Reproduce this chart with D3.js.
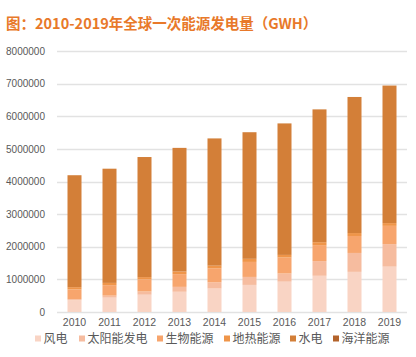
<!DOCTYPE html>
<html><head><meta charset="utf-8">
<script src="https://cdn.jsdelivr.net/npm/d3@7"></script>
<style>body{margin:0;background:#fff;}svg{display:block;}</style>
</head><body>
<svg id="c" width="416" height="357"></svg>
<script>
const years = ["2010","2011","2012","2013","2014","2015","2016","2017","2018","2019"];
const seriesNames = ["风电","太阳能发电","生物能源","地热能源","水电","海洋能源"];
const wind = [360000,440000,530000,620000,720000,830000,930000,1110000,1230000,1390000];
const solar = [32000,62000,100000,150000,190000,245000,250000,450000,580000,690000];
const biomass = [300000,320000,370000,390000,430000,460000,490000,490000,520000,560000];
const geothermal = [70000,70000,70000,80000,80000,95000,80000,90000,90000,85000];
const hydro = [3430000,3500000,3680000,3790000,3900000,3880000,4030000,4070000,4170000,4215000];
const marine = [500,500,500,600,1000,1000,1000,1000,1000,1000];
const yTicks = [0,1000000,2000000,3000000,4000000,5000000,6000000,7000000,8000000];
const colors = ["#F9D4C4","#F6BC9F","#F7A56D","#EF9549","#D37F38","#B3632B"];

const svg = d3.select("#c");
const m = {left:57, right:9, top:51, bottom:45};
const W = 416, H = 357;
const x = d3.scaleBand().domain(years).range([m.left, W - m.right]).paddingInner(0.6).paddingOuter(0.3);
const y = d3.scaleLinear().domain([0, 8000000]).range([312, 51]);

svg.append("text").attr("x",6).attr("y",29)
  .attr("font-family","'Noto Sans CJK SC', sans-serif").attr("font-weight","bold")
  .attr("font-size",14.5).attr("fill","#E8792A")
  .text("图：2010-2019年全球一次能源发电量（GWH）");

// gridlines
svg.append("g").selectAll("line").data(yTicks).join("line")
  .attr("x1", m.left).attr("x2", W - m.right)
  .attr("y1", d => Math.round(y(d)) + 0.5).attr("y2", d => Math.round(y(d)) + 0.5)
  .attr("stroke", "#E2E2E2").attr("stroke-width", 1.3);

const yAxis = svg.append("g").attr("transform",`translate(${m.left - 12},0)`)
  .call(d3.axisLeft(y).tickValues(yTicks).tickSize(0).tickPadding(0).tickFormat(d3.format("d")));
yAxis.select(".domain").remove();
yAxis.selectAll("text").attr("font-family","'Liberation Sans', Arial, sans-serif").attr("font-size",10).attr("fill","#595959");

const data = years.map((yr,i) => ({year: yr, "风电": wind[i], "太阳能发电": solar[i], "生物能源": biomass[i], "地热能源": geothermal[i], "水电": hydro[i], "海洋能源": marine[i]}));
const stacked = d3.stack().keys(seriesNames)(data);

svg.append("g").selectAll("g").data(stacked).join("g")
  .attr("fill", (d,i) => colors[i])
  .selectAll("rect").data(d => d).join("rect")
  .attr("x", d => x(d.data.year))
  .attr("width", x.bandwidth())
  .attr("y", d => y(d[1]))
  .attr("height", d => Math.max(0, y(d[0]) - y(d[1])));

const xAxis = svg.append("g").attr("transform","translate(0,319)")
  .call(d3.axisBottom(x).tickSize(0).tickPadding(0));
xAxis.select(".domain").remove();
xAxis.selectAll("text").attr("dy","0.71em").attr("font-family","'Liberation Sans', Arial, sans-serif").attr("font-size",10.5).attr("fill","#595959");

// legend
const legendX = [35, 79, 157, 224, 290, 333];
const lg = svg.append("g").selectAll("g").data(seriesNames).join("g")
  .attr("transform", (d,i) => `translate(${legendX[i]},339)`);
lg.append("rect").attr("x",0).attr("y",-3.5).attr("width",6).attr("height",6).attr("fill",(d,i)=>colors[i]);
lg.append("text").attr("x",8.5).attr("y",0).attr("dy","0.36em")
  .attr("font-family","'Noto Sans CJK SC', sans-serif").attr("font-size",12).attr("fill","#595959")
  .text(d=>d);
</script>
</body></html>
